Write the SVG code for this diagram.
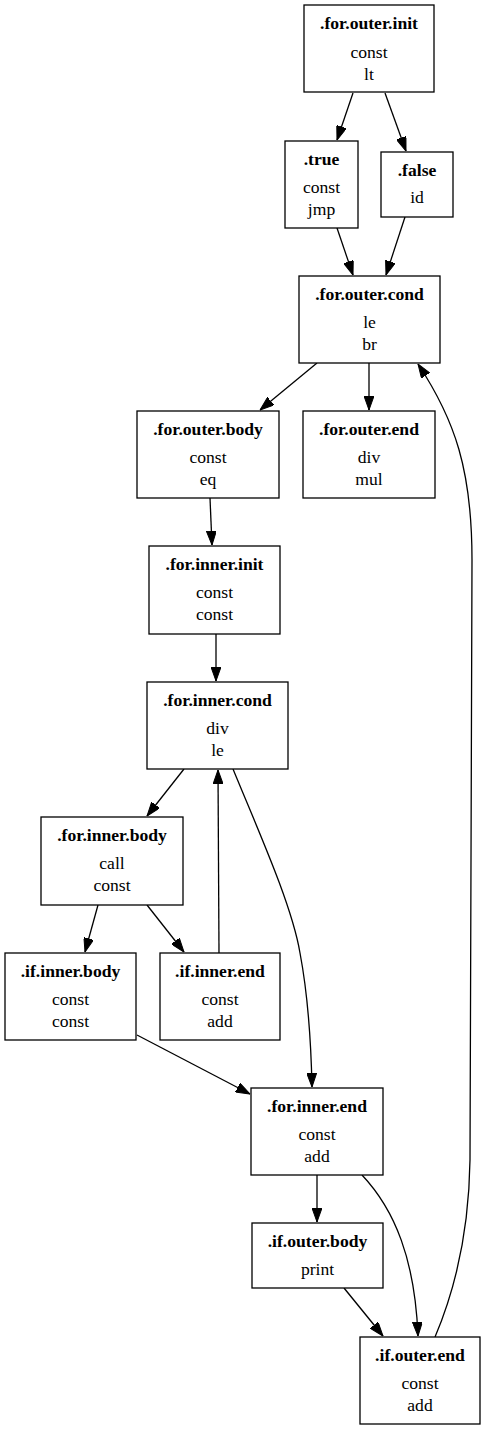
<svg xmlns="http://www.w3.org/2000/svg" width="486" height="1429" viewBox="0 0 486 1429">
<style>
rect{fill:#fff;stroke:#000;stroke-width:1.3}
text{font-family:"Liberation Serif","Times New Roman",serif;font-size:17.6px;text-anchor:middle;fill:#000}
.t{font-weight:bold}
#edges path{fill:none;stroke:#000;stroke-width:1.3}
</style>
<defs>
<marker id="ah" viewBox="0 0 14 10" refX="14" refY="5" markerWidth="14" markerHeight="10" markerUnits="userSpaceOnUse" orient="auto">
<path d="M0,0 L14,5 L0,10 z" fill="#000" stroke="#000" stroke-width="1"/>
</marker>
</defs>
<rect x="0" y="0" width="486" height="1429" style="stroke:none"/>
<g id="edges">
<path d="M353,93 L337,140" marker-end="url(#ah)"/>
<path d="M385,93 L406,151" marker-end="url(#ah)"/>
<path d="M337,228 L353,275" marker-end="url(#ah)"/>
<path d="M405,217 L386,275" marker-end="url(#ah)"/>
<path d="M317,363 L260,410" marker-end="url(#ah)"/>
<path d="M369,363 L369,410" marker-end="url(#ah)"/>
<path d="M210,498 L212,545" marker-end="url(#ah)"/>
<path d="M216,634 L216,681" marker-end="url(#ah)"/>
<path d="M184,769 L147,816" marker-end="url(#ah)"/>
<path d="M98,905 L85,952" marker-end="url(#ah)"/>
<path d="M147,905 L184,952" marker-end="url(#ah)"/>
<path d="M219,953 L218,770" marker-end="url(#ah)"/>
<path d="M233,769 C258,830 292,905 300,953 C307,990 311,1040 312,1087" marker-end="url(#ah)"/>
<path d="M137,1035 L250,1094" marker-end="url(#ah)"/>
<path d="M317,1175 L317,1222" marker-end="url(#ah)"/>
<path d="M362,1175 C395,1210 415,1260 418,1336" marker-end="url(#ah)"/>
<path d="M344,1288 L383,1336" marker-end="url(#ah)"/>
<path d="M435,1337 C455,1290 469,1230 470,1160 L472,560 C472,470 455,420 418,364" marker-end="url(#ah)"/>
</g>
<g id="for_outer_init"><rect x="304" y="5" width="130" height="87"/><text class="t" x="369" y="29">.for.outer.init</text><text x="369" y="58">const</text><text x="369" y="80">lt</text></g>
<g id="true"><rect x="285" y="141" width="73" height="87"/><text class="t" x="321.5" y="165">.true</text><text x="321.5" y="193">const</text><text x="321.5" y="215">jmp</text></g>
<g id="false"><rect x="381" y="152" width="72" height="65"/><text class="t" x="417" y="176">.false</text><text x="417" y="203">id</text></g>
<g id="for_outer_cond"><rect x="299" y="276" width="141" height="87"/><text class="t" x="369.5" y="300">.for.outer.cond</text><text x="369.5" y="328">le</text><text x="369.5" y="350">br</text></g>
<g id="for_outer_body"><rect x="137" y="411" width="142" height="87"/><text class="t" x="208" y="435">.for.outer.body</text><text x="208" y="463">const</text><text x="208" y="485">eq</text></g>
<g id="for_outer_end"><rect x="303" y="411" width="132" height="87"/><text class="t" x="369" y="435">.for.outer.end</text><text x="369" y="463">div</text><text x="369" y="485">mul</text></g>
<g id="for_inner_init"><rect x="149" y="546" width="131" height="88"/><text class="t" x="214.5" y="570">.for.inner.init</text><text x="214.5" y="598">const</text><text x="214.5" y="620">const</text></g>
<g id="for_inner_cond"><rect x="147" y="682" width="141" height="87"/><text class="t" x="217.5" y="706">.for.inner.cond</text><text x="217.5" y="734">div</text><text x="217.5" y="756">le</text></g>
<g id="for_inner_body"><rect x="41" y="817" width="142" height="88"/><text class="t" x="112" y="841">.for.inner.body</text><text x="112" y="869">call</text><text x="112" y="891">const</text></g>
<g id="if_inner_body"><rect x="5" y="953" width="131" height="87"/><text class="t" x="70.5" y="977">.if.inner.body</text><text x="70.5" y="1005">const</text><text x="70.5" y="1027">const</text></g>
<g id="if_inner_end"><rect x="160" y="953" width="120" height="87"/><text class="t" x="220" y="977">.if.inner.end</text><text x="220" y="1005">const</text><text x="220" y="1027">add</text></g>
<g id="for_inner_end"><rect x="251" y="1088" width="132" height="87"/><text class="t" x="317" y="1112">.for.inner.end</text><text x="317" y="1140">const</text><text x="317" y="1162">add</text></g>
<g id="if_outer_body"><rect x="252" y="1223" width="131" height="65"/><text class="t" x="317.5" y="1247">.if.outer.body</text><text x="317.5" y="1275">print</text></g>
<g id="if_outer_end"><rect x="360" y="1337" width="120" height="87"/><text class="t" x="420" y="1361">.if.outer.end</text><text x="420" y="1389">const</text><text x="420" y="1411">add</text></g>
</svg>
